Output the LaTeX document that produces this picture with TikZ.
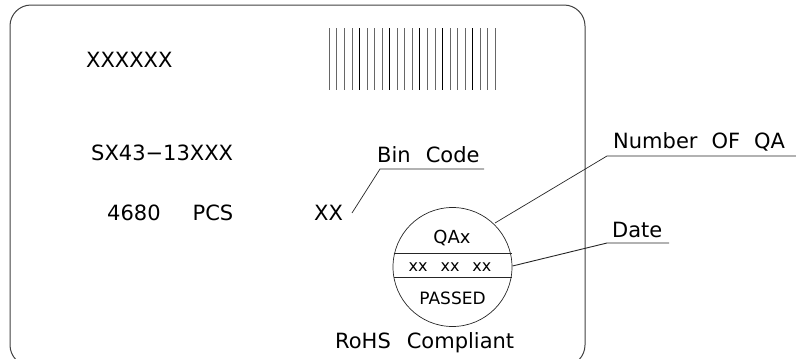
\documentclass[tikz,border=0pt]{standalone}
\usepackage{fontspec}
\setmainfont{DejaVu Sans}
\begin{document}
\begin{tikzpicture}[x=1pt,y=-1pt,
  lbl/.style={inner sep=0pt,anchor=base west,font=\fontsize{21}{21}\selectfont},
  small/.style={inner sep=0pt,anchor=base,font=\fontsize{17}{17}\selectfont},
  thin/.style={line width=0.7pt,black!85},
  card/.style={line width=1pt,black!75,rounded corners=21pt},
  bar/.style={line width=0.9pt,black!60}]
\useasboundingbox (0,0) rectangle (796,359);
\begin{scope}
\clip (0,0) rectangle (796,359);
\draw[card] (10,5) rectangle (585,366);
\end{scope}
% barcode
\foreach \i in {0,...,22}{
  \draw[bar] (329.3+7.55*\i,28) -- (329.3+7.55*\i,90);
}
\foreach \i in {4,8,12,15,19}{
  \draw[line width=0.9pt,black] (329.3+7.55*\i,28) -- (329.3+7.55*\i,90);
}
% texts
\node[lbl] (pn) at (86,67) {XXXXXX};
\node[lbl] (model) at (91,160) {SX43−13XXX};
\node[lbl] (qty) at (107,220) {4680\hspace{32pt}PCS};
\node[lbl] (bincode) at (377,162) {Bin\hspace{15pt}Code};
\node[lbl] (bin) at (314,220) {XX};
\node[lbl] (nqa) at (613,148) {Number\hspace{14pt}OF\hspace{14pt}QA};
\node[lbl] (date) at (612,237) {Date};
\node[lbl] (rohs) at (335,348) {RoHS\hspace{16pt}Compliant};
% QA stamp
\node[draw,thin,circle,minimum size=119pt,inner sep=0pt] (stamp) at (452.5,267) {};
\draw[thin] (393.5,253.3) -- (511.5,253.3);
\draw[thin] (393.5,277.3) -- (511.5,277.3);
\node[small,font=\fontsize{18}{18}\selectfont] (qax) at (452,243) {QAx};
\node[small,font=\fontsize{16}{16}\selectfont] (dcode) at (450,271) {xx\hspace{13pt}xx\hspace{13pt}xx};
\node[small] (passed) at (452.5,304) {PASSED};
% leaders
\coordinate (b1) at (352,213);
\coordinate (b2) at (380,169);
\coordinate (b3) at (484,169);
\draw[thin] (b1) -- (b2) -- (b3);
\coordinate (n1) at (495,223);
\coordinate (n2) at (607,156);
\coordinate (n3) at (796,156);
\draw[thin] (n1) -- (n2) -- (n3);
\coordinate (d1) at (512.5,266);
\coordinate (d2) at (607,243);
\coordinate (d3) at (669,243);
\draw[thin,line width=0.9pt] (d1) -- (d2) -- (d3);
\end{tikzpicture}
\end{document}
